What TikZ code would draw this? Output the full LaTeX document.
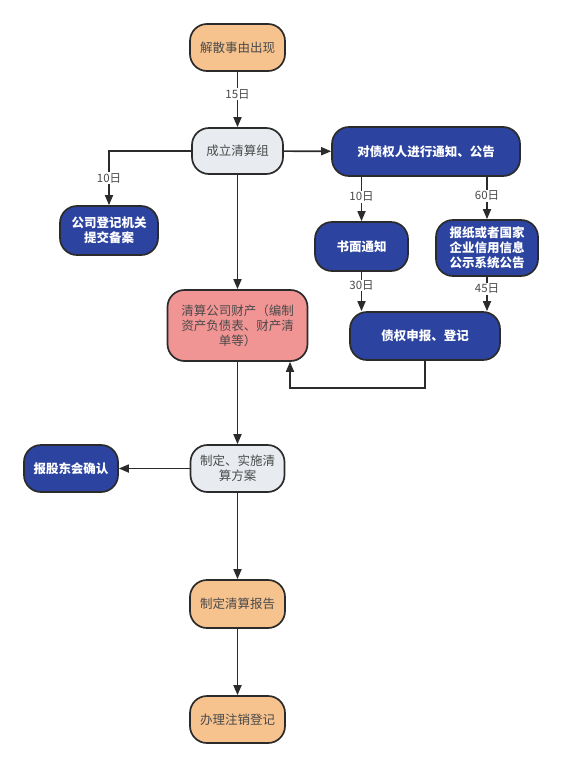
\documentclass[tikz,border=0pt]{standalone}
\usepackage{fontspec}
\setmainfont{Noto Sans CJK SC}
\usetikzlibrary{arrows.meta}
\definecolor{orangefill}{HTML}{F6C28D}
\definecolor{grayfill}{HTML}{E8ECF0}
\definecolor{bluefill}{HTML}{2C44A0}
\definecolor{pinkfill}{HTML}{F09494}
\definecolor{edgec}{HTML}{2B2B2B}
\definecolor{txtc}{HTML}{4A4A4A}
\tikzset{
  x=1pt,y=-1pt,
  box/.style={draw=edgec,line width=1.7pt,rounded corners=17pt,align=center,
    inner sep=2pt,font=\fontsize{12.5}{15}\selectfont,text=txtc},
  ora/.style={box,fill=orangefill},
  gry/.style={box,fill=grayfill},
  blu/.style={box,fill=bluefill,text=white,font=\fontsize{12.5}{15}\selectfont\bfseries},
  pnk/.style={box,fill=pinkfill},
  conn/.style={draw=edgec,line width=1.7pt,-{Triangle[length=10pt,width=8pt]}},
  lbl/.style={fill=white,inner sep=1pt,font=\fontsize{11.5}{13}\selectfont,text=txtc}
}
\begin{document}
\begin{tikzpicture}
\useasboundingbox (0,0) rectangle (563,766);
\node[ora,minimum width=95pt,minimum height=47pt] (a) at (237.5,47.5) {解散事由出现};
\node[gry,minimum width=91pt,minimum height=46pt] (b) at (237.5,151) {成立清算组};
\node[blu,minimum width=188pt,minimum height=49pt] (c) at (426,151.5) {对债权人进行通知、公告};
\node[blu,minimum width=98pt,minimum height=49pt] (d) at (109,230.5) {公司登记机关\\提交备案};
\node[blu,minimum width=93pt,minimum height=49pt] (e) at (361.5,246.5) {书面通知};
\node[blu,minimum width=102pt,minimum height=56pt] (f) at (487,248) {报纸或者国家\\企业信用信息\\公示系统公告};
\node[pnk,minimum width=140pt,minimum height=71pt,text width=128pt] (g) at (237.5,325.5) {清算公司财产（编制\\资产负债表、财产清\\单等）};
\node[blu,minimum width=150pt,minimum height=48pt] (h) at (425,336) {债权申报、登记};
\node[gry,minimum width=94pt,minimum height=47pt] (i) at (237.5,468.5) {制定、实施清\\算方案};
\node[blu,minimum width=94pt,minimum height=47pt] (j) at (71,468.5) {报股东会确认};
\node[ora,minimum width=95pt,minimum height=48pt] (k) at (237.5,604) {制定清算报告};
\node[ora,minimum width=95pt,minimum height=47pt] (l) at (237.5,719.5) {办理注销登记};

\draw[conn] (a) -- node[lbl,pos=0.4] {15日} (b);
\draw[conn] (b) -- (c);
\draw[conn] (b.west) -| node[lbl,pos=0.75] {10日} (d.north);
\draw[conn] (c.south -| e.north) -- node[lbl,pos=0.45] {10日} (e.north);
\draw[conn] (c.south -| f.north) -- node[lbl,pos=0.45] {60日} (f.north);
\draw[conn] (e.south) -- node[lbl,pos=0.35] {30日} (e.south |- h.north);
\draw[conn] (f.south) -- node[lbl,pos=0.35] {45日} (f.south |- h.north);
\draw[conn] (b) -- (g);
\coordinate (fb) at (290,388);
\draw[conn] (h.south) |- (fb) -- (fb |- g.south);
\draw[conn] (g) -- (i);
\draw[conn] (i) -- (j);
\draw[conn] (i) -- (k);
\draw[conn] (k) -- (l);
\end{tikzpicture}
\end{document}
